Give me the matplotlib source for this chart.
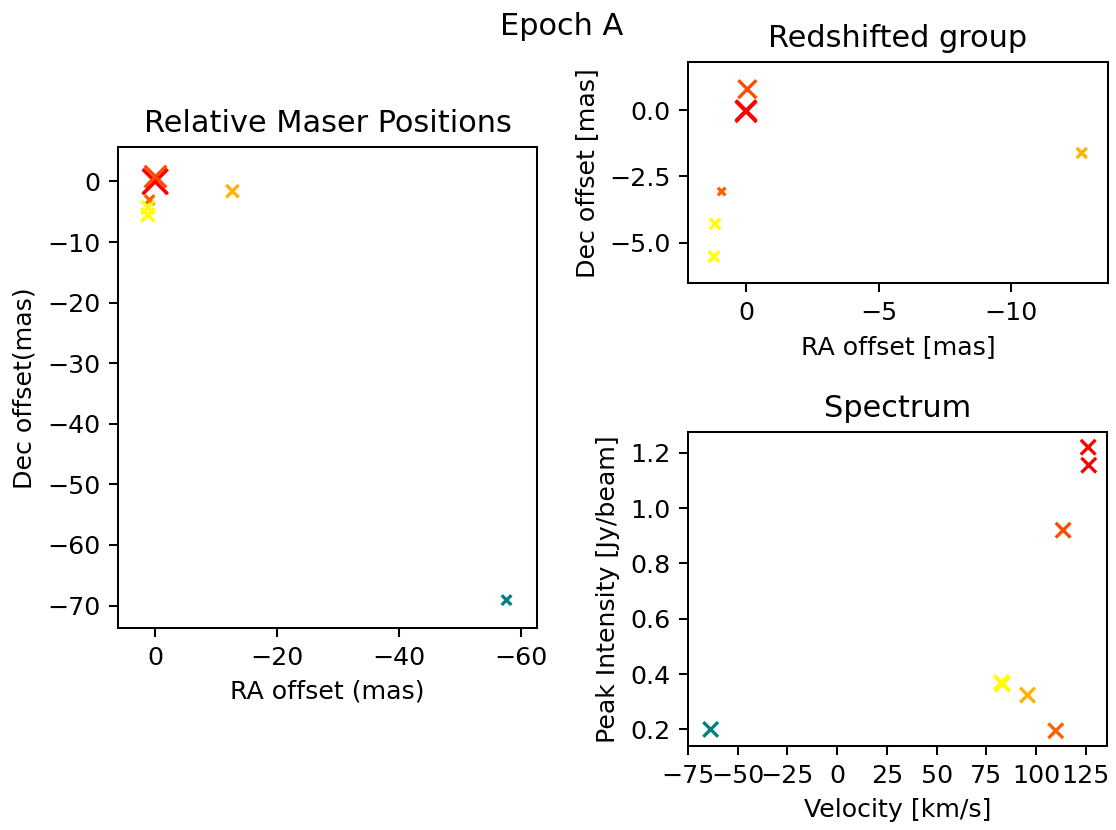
import matplotlib
matplotlib.use("Agg")
import matplotlib.pyplot as plt
import numpy as np
from matplotlib import colors as mcolors

plt.rcParams['font.family'] = ['DejaVu Sans']

# ---- data: maser spots (epoch A) ----
velocity = [126.2, 126.5, 113.6, 109.9, 95.7, 83.1, 82.6, -63.6]      # km/s
peak_int = [1.22, 1.155, 0.92, 0.195, 0.324, 0.363, 0.37, 0.20]       # Jy/beam
ra_off   = [0.0, 0.0, -0.05, 0.92, -12.67, 1.17, 1.21, -57.6]         # mas
dec_off  = [-0.05, 0.0, 0.80, -3.07, -1.61, -4.29, -5.53, -69.1]      # mas
blue_color = 'teal'

vel = np.array(velocity)
pk = np.array(peak_int)
ra = np.array(ra_off)
dec = np.array(dec_off)

red = vel > 0
cmap = plt.get_cmap('autumn_r')
norm = mcolors.Normalize(vmin=vel[red].min(), vmax=vel[red].max())
cols = [cmap(norm(v)) if v > 0 else mcolors.to_rgba(blue_color) for v in vel]
cols = np.array(cols)

DPI = 182
fig = plt.figure(figsize=(1116 / DPI, 830 / DPI), dpi=DPI)

# Left: all positions
ax1 = fig.add_axes([0.1057, 0.2434, 0.3755, 0.5789])
ax1.scatter(ra, dec, s=80 * pk ** 1.05, c=cols, marker='x', linewidths=1.3)
ax1.set_xlim(6.1, -62.6)
ax1.set_ylim(-73.7, 5.6)
ax1.set_xticks([0, -20, -40, -60])
ax1.set_yticks([0, -10, -20, -30, -40, -50, -60, -70])
ax1.set_title('Relative Maser Positions', fontsize=12)
ax1.set_xlabel('RA offset (mas)', fontsize=10)
ax1.set_ylabel('Dec offset(mas)', fontsize=10)

# Top right: redshifted group
ax2 = fig.add_axes([0.6165, 0.659, 0.3761, 0.2657])
ax2.scatter(ra[red], dec[red], s=55 * pk[red] ** 1.1, c=cols[red], marker='x', linewidths=1.3)
ax2.set_xlim(2.19, -13.65)
ax2.set_ylim(-6.53, 1.81)
ax2.set_xticks([0, -5, -10])
ax2.set_yticks([0.0, -2.5, -5.0])
ax2.set_title('Redshifted group', fontsize=12)
ax2.set_xlabel('RA offset [mas]', fontsize=10)
ax2.set_ylabel('Dec offset [mas]', fontsize=10)

# Bottom right: spectrum
ax3 = fig.add_axes([0.6165, 0.1012, 0.3755, 0.3783])
ax3.scatter(vel, pk, s=34, c=cols, marker='x', linewidths=1.3)
ax3.set_xlim(-75, 135.7)
ax3.set_ylim(0.14, 1.275)
ax3.set_xticks([-75, -50, -25, 0, 25, 50, 75, 100, 125])
ax3.set_yticks([0.2, 0.4, 0.6, 0.8, 1.0, 1.2])
ax3.set_title('Spectrum', fontsize=12)
ax3.set_xlabel('Velocity [km/s]', fontsize=10)
ax3.set_ylabel('Peak Intensity [Jy/beam]', fontsize=10)

for ax in (ax1, ax2, ax3):
    ax.tick_params(labelsize=10)

fig.text(0.503, 0.985, 'Epoch A', ha='center', va='top', fontsize=12)

fig.savefig('out.png', dpi=DPI)
